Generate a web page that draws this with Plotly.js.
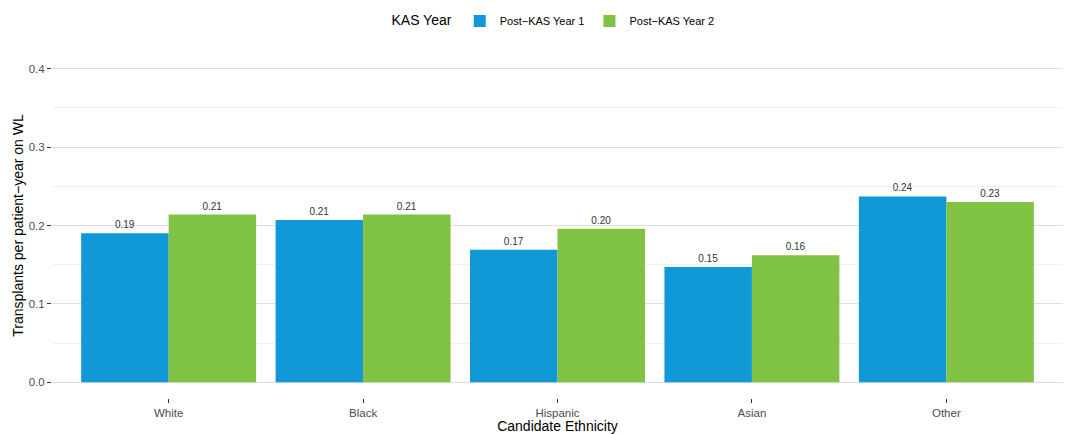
<!DOCTYPE html>
<html><head><meta charset="utf-8">
<script src="https://cdn.plot.ly/plotly-3.0.1.min.js"></script>
<style>html,body{margin:0;padding:0;background:#fff;}#chart{width:1065px;height:434px;}</style>
</head><body><div id="chart"></div>
<script>
const categories = ["White", "Black", "Hispanic", "Asian", "Other"];
const seriesNames = ["Post\u2212KAS Year 1", "Post\u2212KAS Year 2"];
const year1 = [0.190, 0.207, 0.169, 0.147, 0.237];
const year2 = [0.214, 0.214, 0.196, 0.162, 0.230];
const colors = ["#1198d6", "#80c242"];

const mk = (name, vals, color) => ({
  type: "bar", name: name, x: categories, y: vals,
  marker: {color: color, line: {width: 0}},
  texttemplate: "%{y:.2f}", textposition: "outside", cliponaxis: false,
  textfont: {family: "Liberation Sans, Arial, sans-serif", size: 10, color: "#333333"},
  hoverinfo: "x+y"
});

const data = [mk(seriesNames[0], year1, colors[0]), mk(seriesNames[1], year2, colors[1])];

const layout = {
  width: 1065, height: 434,
  margin: {l: 52, r: 2, t: 53, b: 36},
  paper_bgcolor: "#ffffff", plot_bgcolor: "#ffffff",
  font: {family: "Liberation Sans, Arial, sans-serif", color: "#000"},
  barmode: "group", bargap: 0.1, bargroupgap: 0,
  showlegend: true,
  legend: {
    orientation: "h", x: 0.497, xanchor: "center", y: 0.985, yref: "container", yanchor: "top",
    title: {text: "KAS Year", font: {size: 14, color: "#000"}, side: "left"},
    font: {size: 11, color: "#000"}, traceorder: "normal", itemwidth: 30
  },
  xaxis: {
    range: [-0.6, 4.6], showgrid: false, zeroline: false,
    ticks: "outside", ticklen: 4, tickcolor: "#333", tickwidth: 1,
    tickfont: {size: 11.5, color: "#4d4d4d"},
    title: {text: "Candidate Ethnicity", font: {size: 14, color: "#000"}, standoff: 6}
  },
  yaxis: {
    range: [-0.02, 0.42], dtick: 0.1, tick0: 0, tickformat: ".1f",
    showgrid: true, gridcolor: "#dedede", gridwidth: 1, zeroline: false,
    minor: {dtick: 0.05, tick0: 0, showgrid: true, gridcolor: "#f2f2f2", gridwidth: 1, ticks: ""},
    ticks: "outside", ticklen: 4, tickcolor: "#333", tickwidth: 1,
    tickfont: {size: 11.5, color: "#4d4d4d"},
    title: {text: "Transplants per patient\u2212year on WL", font: {size: 14, color: "#000"}, standoff: 1}
  }
};

Plotly.newPlot("chart", data, layout, {displayModeBar: false, staticPlot: true});
</script></body></html>
